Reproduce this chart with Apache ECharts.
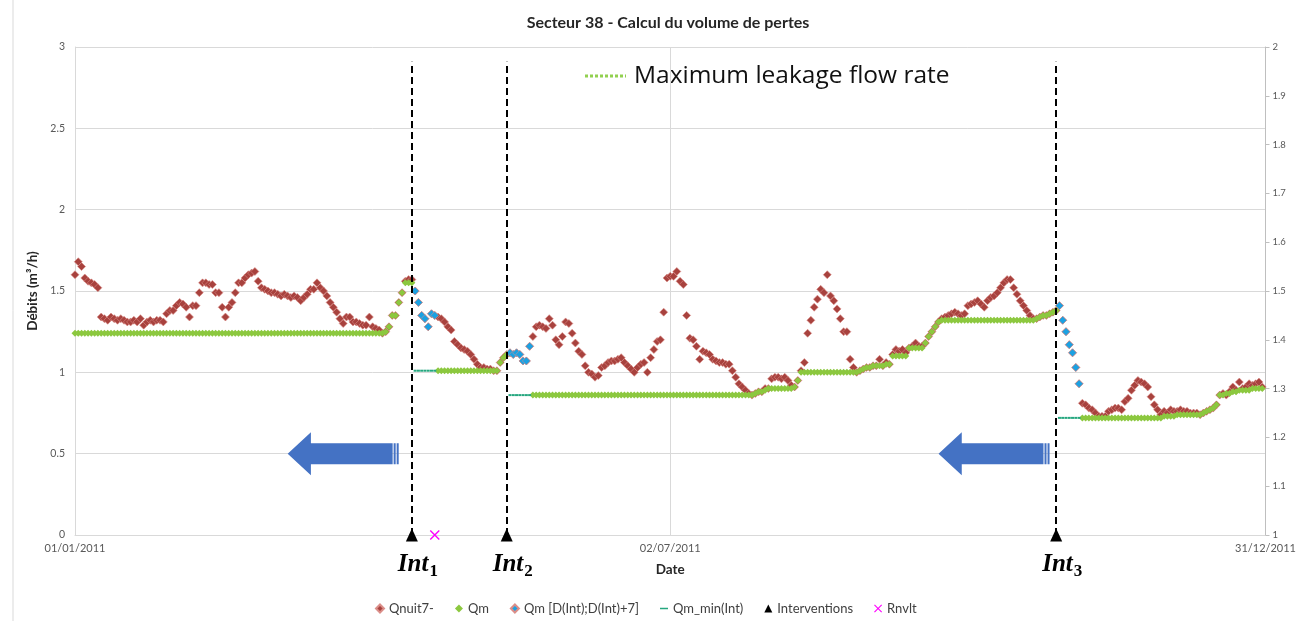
<!DOCTYPE html>
<html>
<head>
<meta charset="utf-8">
<script src="https://cdn.jsdelivr.net/npm/echarts@6/dist/echarts.min.js"></script>
<style>
  html, body { margin: 0; padding: 0; background: #fff; }
  #chart { width: 1299px; height: 621px; }
</style>
</head>
<body>
<div id="chart"></div>
<script>
// day index 0 = 01/01/2011
const qnuit = [
  1.60, 1.68, 1.65, 1.58, 1.56, 1.55, 1.54, 1.52, 1.34, 1.33,
  1.32, 1.34, 1.33, 1.32, 1.33, 1.32, 1.31, 1.31, 1.32, 1.31,
  1.33, 1.29, 1.31, 1.32, 1.31, 1.32, 1.32, 1.31, 1.36, 1.38,
  1.38, 1.41, 1.43, 1.42, 1.40, 1.34, 1.41, 1.41, 1.49, 1.55,
  1.55, 1.54, 1.54, 1.49, 1.49, 1.40, 1.34, 1.40, 1.43, 1.49,
  1.55, 1.55, 1.58, 1.60, 1.61, 1.62, 1.56, 1.52, 1.51, 1.50,
  1.49, 1.49, 1.48, 1.47, 1.48, 1.47, 1.46, 1.47, 1.46, 1.44,
  1.46, 1.48, 1.51, 1.51, 1.55, 1.52, 1.50, 1.47, 1.43, 1.40,
  1.37, 1.33, 1.30, 1.34, 1.34, 1.31, 1.31, 1.30, 1.29, 1.29,
  1.34, 1.28, 1.27, 1.26, 1.24, 1.25, 1.28, 1.35, 1.35, 1.43,
  1.49, 1.56, 1.57, 1.57, 1.50, 1.43, 1.35, 1.33, 1.28, 1.36,
  1.35, 1.34, 1.33, 1.31, 1.28, 1.26, 1.19, 1.17, 1.15, 1.14,
  1.13, 1.11, 1.08, 1.05, 1.03, 1.03, 1.02, 1.02, 1.01, 1.01,
  1.06, 1.09, 1.11, 1.12, 1.11, 1.12, 1.11, 1.07, 1.07, 1.16,
  1.22, 1.28, 1.29, 1.28, 1.27, 1.33, 1.29, 1.20, 1.17, 1.22,
  1.31, 1.30, 1.24, 1.18, 1.13, 1.11, 1.04, 1.00, 0.99, 0.97,
  0.98, 1.03, 1.04, 1.06, 1.07, 1.07, 1.08, 1.09, 1.06, 1.04,
  1.02, 1.00, 1.03, 1.05, 1.06, 1.00, 1.09, 1.14, 1.19, 1.20,
  1.37, 1.58, 1.59, 1.59, 1.62, 1.56, 1.54, 1.35, 1.21, 1.20,
  1.16, 1.08, 1.13, 1.12, 1.11, 1.08, 1.07, 1.06, 1.06, 1.05,
  1.05, 1.01, 0.97, 0.93, 0.91, 0.89, 0.87, 0.86, 0.87, 0.88,
  0.88, 0.90, 0.90, 0.96, 0.97, 0.97, 0.96, 0.97, 0.95, 0.92,
  0.91, 0.95, 1.01, 1.06, 1.24, 1.32, 1.40, 1.45, 1.51, 1.49,
  1.60, 1.47, 1.44, 1.39, 1.33, 1.25, 1.25, 1.08, 1.03, 1.00,
  1.01, 1.02, 1.03, 1.03, 1.04, 1.04, 1.08, 1.04, 1.06, 1.05,
  1.11, 1.14, 1.13, 1.14, 1.12, 1.15, 1.16, 1.18, 1.16, 1.16,
  1.18, 1.22, 1.25, 1.28, 1.31, 1.33, 1.34, 1.35, 1.36, 1.37,
  1.36, 1.35, 1.36, 1.41, 1.42, 1.43, 1.44, 1.42, 1.40, 1.44,
  1.46, 1.47, 1.49, 1.52, 1.55, 1.57, 1.57, 1.52, 1.48, 1.44,
  1.41, 1.38, 1.35, 1.33, 1.33, 1.34, 1.35, 1.35, 1.36, 1.37,
  1.38, 1.41, 1.32, 1.25, 1.17, 1.12, 1.03, 0.93, 0.81, 0.80,
  0.78, 0.77, 0.75, 0.73, 0.73, 0.73, 0.76, 0.77, 0.78, 0.78,
  0.77, 0.82, 0.84, 0.89, 0.92, 0.95, 0.94, 0.93, 0.91, 0.85,
  0.80, 0.77, 0.74, 0.76, 0.75, 0.77, 0.76, 0.76, 0.77, 0.76,
  0.76, 0.75, 0.75, 0.75, 0.74, 0.75, 0.76, 0.77, 0.78, 0.80,
  0.86, 0.87, 0.86, 0.88, 0.91, 0.89, 0.94, 0.90, 0.91, 0.93,
  0.92, 0.93, 0.94, 0.91
];

// Qm levels: [first day, last day, value]
const qmRuns = [
  [0, 94, 1.24], [95, 95, 1.25], [96, 96, 1.28], [97, 98, 1.35], [99, 99, 1.43],
  [100, 100, 1.49], [101, 103, 1.55],
  [111, 129, 1.01], [130, 130, 1.06], [131, 131, 1.09], [132, 132, 1.11],
  [140, 207, 0.86], [208, 208, 0.87], [209, 210, 0.88], [211, 211, 0.89],
  [212, 219, 0.90], [220, 220, 0.91], [221, 221, 0.95], [222, 239, 1.00],
  [240, 240, 1.01], [241, 241, 1.02], [242, 243, 1.03], [244, 247, 1.04],
  [248, 249, 1.05], [250, 254, 1.10], [255, 259, 1.15], [260, 260, 1.18],
  [261, 261, 1.22], [262, 262, 1.25], [263, 263, 1.28], [264, 264, 1.31],
  [265, 293, 1.32], [294, 294, 1.33], [295, 295, 1.34], [296, 297, 1.35],
  [298, 298, 1.36], [299, 299, 1.37], [300, 300, 1.38],
  [308, 332, 0.72], [333, 336, 0.73], [337, 344, 0.74], [345, 345, 0.75],
  [346, 346, 0.76], [347, 347, 0.77], [348, 348, 0.78], [349, 349, 0.80],
  [350, 351, 0.86], [352, 353, 0.87], [354, 355, 0.88], [356, 359, 0.89],
  [360, 363, 0.90]
];

// Qm during the 7 days after each intervention
const qmIntStarts = [104, 133, 301];
const qmIntValues = [
  [1.50, 1.43, 1.35, 1.33, 1.28, 1.36, 1.35],
  [1.12, 1.11, 1.12, 1.11, 1.07, 1.07, 1.16],
  [1.41, 1.32, 1.25, 1.17, 1.12, 1.03, 0.93]
];

const qmMinRuns = [[104, 110, 1.01], [133, 139, 0.86], [301, 307, 0.72]];

const interventionDays = [103, 132, 300];
const interventionNames = ['1', '2', '3'];
const rnvltDays = [110];
const arrowDays = [82, 281];
const arrowLevels = [0.5, 0.5];
const dashTop = 2.91;

const legendNames = ['Qnuit7-', 'Qm', 'Qm [D(Int);D(Int)+7]', 'Qm_min(Int)', 'Interventions', 'Rnvlt'];

const expand = (runs) => {
  const out = [];
  runs.forEach(([a, b, v]) => {
    for (let d = a; d <= b; d++) out.push([d, v]);
  });
  return out;
};

const dayLabel = (v) => {
  const d = new Date(Date.UTC(2011, 0, 1) + v * 86400000);
  const p = (n) => String(n).padStart(2, '0');
  return p(d.getUTCDate()) + '/' + p(d.getUTCMonth() + 1) + '/' + d.getUTCFullYear();
};

const blueData = [];
qmIntStarts.forEach((s, k) => qmIntValues[k].forEach((v, i) => blueData.push([s + i, v])));

const crossPath = 'path://M1,0L5,4L9,0L10,1L6,5L10,9L9,10L5,6L1,10L0,9L4,5L0,1Z';
const dashIcon = 'path://M0,0L0.5,0L0.5,0.01L0,0.01Z M0,4L10,4L10,6L0,6Z M0,10L0.5,10L0.5,10.01L0,10.01Z';
const arrowPath = 'path://M0,21.5L23,0L23,11L104,11L104,32L23,32L23,43Z M105,11L107,11L107,32L105,32Z M108,11L110,11L110,32L108,32Z';

const FONT = 'Lato';
const chart = echarts.init(document.getElementById('chart'));

chart.setOption({
  animation: false,
  backgroundColor: '#fff',
  title: {
    text: 'Secteur 38 - Calcul du volume de pertes',
    left: 663, top: 10, textAlign: 'center',
    textStyle: { fontFamily: FONT, fontSize: 16, fontWeight: 'bold', color: '#262626' }
  },
  legend: {
    left: 370, top: 597,
    itemWidth: 8, itemHeight: 8, itemGap: 21,
    textStyle: { fontFamily: FONT, fontSize: 13, color: '#404040' },
    data: [
      { name: legendNames[0], icon: 'diamond' },
      { name: legendNames[1], icon: 'diamond' },
      { name: legendNames[2], icon: 'diamond' },
      { name: legendNames[3], icon: dashIcon },
      { name: legendNames[4], icon: 'triangle' },
      { name: legendNames[5], icon: crossPath }
    ]
  },
  grid: { left: 75, right: 26, top: 47, bottom: 86 },
  xAxis: {
    type: 'value', min: 0, max: 364, interval: 182,
    name: 'Date', nameLocation: 'middle', nameGap: 28,
    nameTextStyle: { fontFamily: FONT, fontSize: 13.5, fontWeight: 'bold', color: '#262626' },
    axisLine: { lineStyle: { color: '#D9D9D9' } },
    axisTick: { show: false },
    splitLine: { show: true, lineStyle: { color: '#D9D9D9' } },
    axisLabel: { formatter: dayLabel, fontFamily: FONT, fontSize: 11, color: '#595959', margin: 8 }
  },
  yAxis: [
    {
      type: 'value', min: 0, max: 3, interval: 0.5,
      name: 'Débits (m³/h)', nameLocation: 'middle', nameGap: 29,
      nameTextStyle: { fontFamily: FONT, fontSize: 13.5, fontWeight: 'bold', color: '#262626' },
      axisLine: { show: true, lineStyle: { color: '#D9D9D9' } },
      axisTick: { show: false },
      splitLine: { lineStyle: { color: '#D9D9D9' } },
      axisLabel: { fontFamily: FONT, fontSize: 10.5, color: '#595959', margin: 10 }
    },
    {
      type: 'value', min: 1, max: 2, interval: 0.1, position: 'right',
      axisLine: { show: true, lineStyle: { color: '#BFBFBF' } },
      axisTick: { show: true, length: 4, lineStyle: { color: '#BFBFBF' } },
      splitLine: { show: false },
      axisLabel: { fontFamily: FONT, fontSize: 9.5, color: '#595959', margin: 7 }
    }
  ],
  graphic: [
    { type: 'line', shape: { x1: 13, y1: 0, x2: 13, y2: 621 }, style: { stroke: '#D9D9D9', lineWidth: 1 } },
    { type: 'line', shape: { x1: 585, y1: 76, x2: 626, y2: 76 },
      style: { stroke: '#92D050', lineWidth: 3, lineDash: [3, 2] } },
    { type: 'text', x: 634, y: 76,
      style: { text: 'Maximum leakage flow rate', fontFamily: 'Open Sans', fontSize: 24.5,
        fill: '#111', verticalAlign: 'middle' } }
  ],
  series: [
    {
      name: 'arrows', type: 'scatter', silent: true, z: 1,
      symbol: arrowPath, symbolSize: [111, 43],
      itemStyle: { color: '#4472C4', opacity: 1 },
      data: arrowDays.map((d, i) => [d, arrowLevels[i]])
    },
    {
      name: legendNames[0], type: 'scatter', z: 2,
      symbol: 'diamond', symbolSize: 8,
      itemStyle: { color: '#A8423E', borderColor: '#DB8E89', borderWidth: 0.6, opacity: 1 },
      data: qnuit.map((v, i) => [i, v])
    },
    {
      name: legendNames[1], type: 'scatter', z: 3,
      symbol: 'diamond', symbolSize: 7,
      itemStyle: { color: '#8CC83F', opacity: 1 },
      data: expand(qmRuns)
    },
    {
      name: legendNames[2], type: 'scatter', z: 4,
      symbol: 'diamond', symbolSize: 8,
      itemStyle: { color: '#1BA1E2', borderColor: '#DB8E89', borderWidth: 0.6, opacity: 1 },
      data: blueData
    },
    {
      name: legendNames[3], type: 'scatter', z: 4,
      symbol: 'rect', symbolSize: [3, 2],
      itemStyle: { color: '#25A77F', opacity: 1 },
      data: expand(qmMinRuns)
    },
    {
      name: legendNames[4], type: 'scatter', z: 6, clip: false,
      symbol: 'triangle', symbolSize: [12, 13],
      itemStyle: { color: '#000', opacity: 1 },
      label: {
        show: true, position: 'inside', offset: [6, 30],
        formatter: (p) => '{i|Int}{s|' + p.data.sub + '}',
        rich: {
          i: { fontFamily: 'Liberation Serif', fontStyle: 'italic', fontWeight: 'bold', fontSize: 25, color: '#000' },
          s: { fontFamily: 'Liberation Serif', fontWeight: 'bold', fontSize: 17, color: '#000', padding: [14, 0, 0, 1] }
        }
      },
      markLine: {
        silent: true, symbol: 'none', label: { show: false },
        lineStyle: { color: '#000', width: 2, type: [7, 4] },
        data: interventionDays.map((d) => [{ coord: [d, 0] }, { coord: [d, dashTop] }])
      },
      data: interventionDays.map((d, i) => ({ value: [d, 0], sub: interventionNames[i] }))
    },
    {
      name: legendNames[5], type: 'scatter', z: 6, clip: false,
      symbol: crossPath, symbolSize: 10,
      itemStyle: { color: '#FF00FF', opacity: 1 },
      data: rnvltDays.map((d) => [d, 0])
    }
  ]
});
</script>
</body>
</html>
